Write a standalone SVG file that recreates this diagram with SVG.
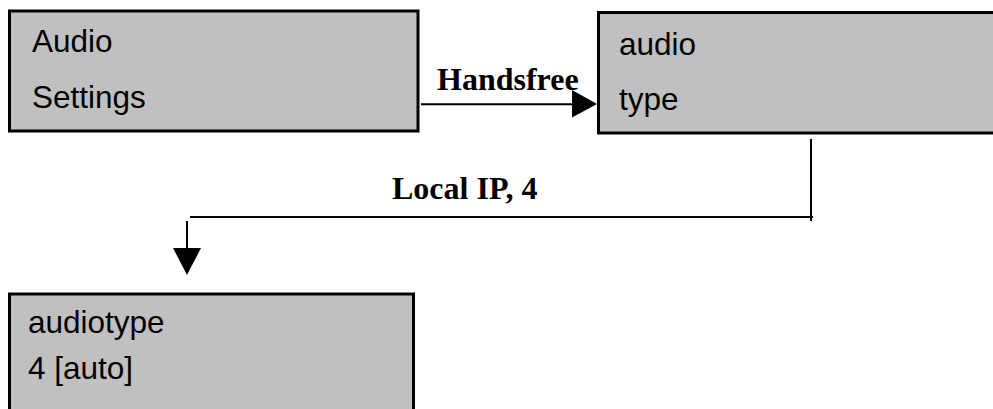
<svg xmlns="http://www.w3.org/2000/svg" width="993" height="409" viewBox="0 0 993 409">
<style>
.box{fill:#c0c0c0;stroke:#000;stroke-width:3}
.t{font-family:"Liberation Sans",Arial,sans-serif;font-size:31.5px;fill:#000}
.lbl{font-family:"Liberation Serif","Times New Roman",serif;font-size:32px;font-weight:bold;fill:#000}
.ln{stroke:#000;stroke-width:2;fill:none}
.ah{fill:#000}
</style>
<rect width="993" height="409" fill="#fff"/>
<g id="connectors">
<line class="ln" x1="421" y1="104.3" x2="576" y2="104.3"/>
<polygon class="ah" points="572,90 597,104 572,117.5"/>
<text class="lbl" x="437" y="90" font-size="33">Handsfree</text>
<line class="ln" x1="811" y1="139" x2="811" y2="221"/>
<line class="ln" x1="190" y1="217" x2="813" y2="217"/>
<line class="ln" x1="187" y1="221" x2="187" y2="250"/>
<polygon class="ah" points="173,248 201,248 187,275"/>
<text class="lbl" x="392" y="199">Local IP, 4</text>
</g>
<g id="audio-settings">
<rect class="box" x="9.5" y="11" width="408.5" height="120"/>
<text class="t" x="32" y="52">Audio</text>
<text class="t" x="32" y="108">Settings</text>
</g>
<g id="audio-type">
<rect class="box" x="598.5" y="12.5" width="410" height="120.5"/>
<text class="t" x="619" y="55">audio</text>
<text class="t" x="619" y="110">type</text>
</g>
<g id="audiotype">
<rect class="box" x="9.5" y="294" width="404" height="130"/>
<text class="t" x="28" y="333">audiotype</text>
<text class="t" x="28" y="379">4 [auto]</text>
</g>
</svg>
